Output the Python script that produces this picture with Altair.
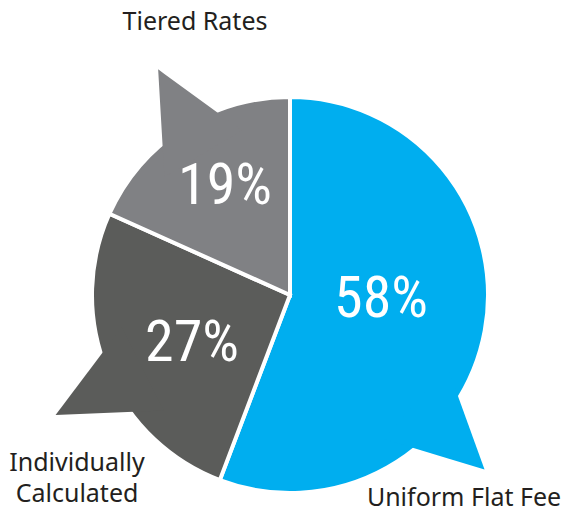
import math
import altair as alt
import pandas as pd

# ---- data ----
categories = ["Uniform Flat Fee", "Individually Calculated", "Tiered Rates"]
values = [58, 27, 19]
value_labels = ["58%", "27%", "19%"]
colors = ["#00AEEF", "#5B5C5A", "#808184"]

# ---- layout (page pixel coordinates) ----
W, H = 554, 502
CX, CY, R = 290, 295, 198
# speech-bubble tails: base angles on circle (deg clockwise from 12 o'clock), tip angle, tip radius factor
tail_base = [(121.5, 140.8), (233.8, 252.5), (319.9, 338.0)]
tail_tip = [(131.9, 1.32), (242.9, 1.33), (329.7, 1.32)]
num_pos = [(381, 300), (192, 344), (225, 187)]
cat_lines = [["Uniform Flat Fee"], ["Individually", "Calculated"], ["Tiered Rates"]]
cat_pos = [(464, 506), (77, 471), (195, 30)]   # text baselines
cat_line_h = 31

NUM_FONT = "'Roboto Condensed', 'Liberation Sans Narrow', Roboto, sans-serif"


def polar(ang, rf):
    a = math.radians(ang)
    return CX + R * rf * math.sin(a), CY - R * rf * math.cos(a)


# build tail triangles as areas
rows = []
for cat, (a1, a2), (ta, tr) in zip(categories, tail_base, tail_tip):
    T = polar(ta, tr)
    pts = [T]
    for a in (a1, a2):
        B = polar(a, 1.0)
        pts.append((T[0] + 1.45 * (B[0] - T[0]), T[1] + 1.45 * (B[1] - T[1])))
    pts.sort(key=lambda p: p[0])
    p0, p1, p2 = pts
    t = (p1[0] - p0[0]) / (p2[0] - p0[0])
    ymid = p0[1] + t * (p2[1] - p0[1])
    rows += [
        {"cat": cat, "x": p0[0], "y": p0[1], "y2": p0[1]},
        {"cat": cat, "x": p1[0], "y": p1[1], "y2": ymid},
        {"cat": cat, "x": p2[0], "y": p2[1], "y2": p2[1]},
    ]
tails = pd.DataFrame(rows)

pie = pd.DataFrame({"cat": categories, "value": values, "order": [0, 1, 2]})
nums = pd.DataFrame({"label": value_labels,
                     "x": [p[0] for p in num_pos], "y": [p[1] for p in num_pos]})
crow = []
for lines, (x, y) in zip(cat_lines, cat_pos):
    for i, ln in enumerate(lines):
        crow.append({"label": ln, "x": x, "y": y + i * cat_line_h})
cats = pd.DataFrame(crow)

xs = alt.Scale(domain=[8, 8 + W], nice=False, zero=False)
ys = alt.Scale(domain=[8 + H, 8], nice=False, zero=False)
cs = alt.Scale(domain=categories, range=colors)

arcs = alt.Chart(pie).mark_arc(outerRadius=R, stroke="white", strokeWidth=4).encode(
    theta=alt.Theta("value:Q", stack=True),
    order=alt.Order("order:Q"),
    color=alt.Color("cat:N", scale=cs, legend=None),
    x=alt.value(CX - 8),
    y=alt.value(CY - 8),
)

tail_layer = alt.Chart(tails).mark_area(interpolate="linear").encode(
    x=alt.X("x:Q", scale=xs, axis=None),
    y=alt.Y("y:Q", scale=ys, axis=None),
    y2="y2:Q",
    detail="cat:N",
    color=alt.Color("cat:N", scale=cs, legend=None),
)

num_layer = alt.Chart(nums).mark_text(
    font=NUM_FONT, fontSize=58, color="white", baseline="middle", align="center"
).encode(
    x=alt.X("x:Q", scale=xs, axis=None),
    y=alt.Y("y:Q", scale=ys, axis=None),
    text="label:N",
)

cat_layer = alt.Chart(cats).mark_text(
    font="Noto Sans", fontSize=25, color="#231F20", baseline="alphabetic", align="center"
).encode(
    x=alt.X("x:Q", scale=xs, axis=None),
    y=alt.Y("y:Q", scale=ys, axis=None),
    text="label:N",
)

chart = alt.layer(arcs, tail_layer, num_layer, cat_layer).properties(
    width=W, height=H, padding=0, autosize=alt.AutoSizeParams(type="none")
).configure_view(stroke=None)

chart.save("out.html", embed_options={"renderer": "svg", "actions": False})
